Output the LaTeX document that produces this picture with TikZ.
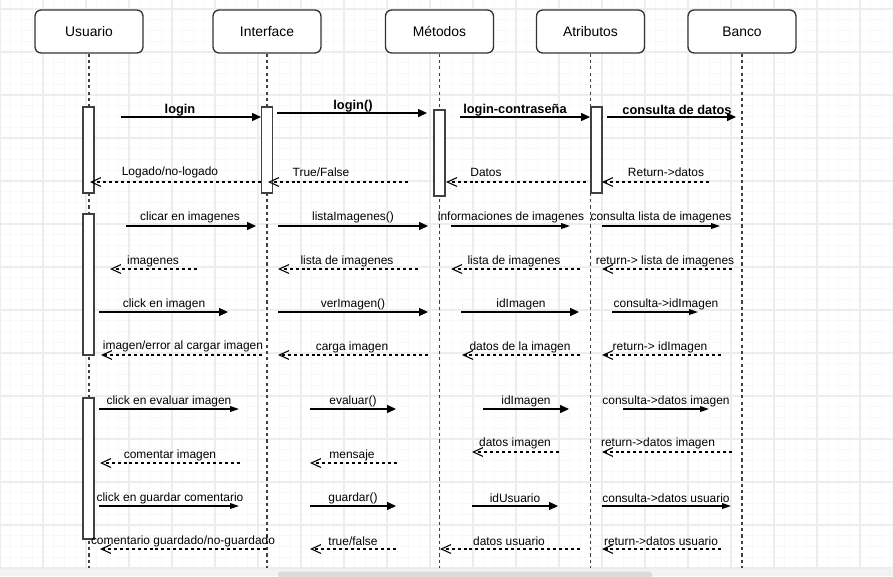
\documentclass[tikz,border=0pt]{standalone}
\usepackage{fontspec}
\setmainfont{Liberation Sans}
\usetikzlibrary{arrows.meta}
\definecolor{gridmin}{HTML}{F8F8F8}
\definecolor{gridmaj}{HTML}{EDEDED}

\begin{document}
\begin{tikzpicture}[x=0.02cm,y=-0.02cm]

\tikzstyle{head}=[draw=black!80,fill=white,rounded corners=3.5pt,minimum width=2.16cm,minimum height=0.86cm,line width=0.75pt,font=\fontsize{7.9}{9}\selectfont]
\tikzstyle{life}=[black!75,line width=0.6pt,dash pattern=on 1.8pt off 1.8pt]
\tikzstyle{act}=[draw=black!75,fill=white,line width=0.75pt,minimum width=0.22cm,inner sep=0]
\tikzstyle{call}=[line width=0.6pt,-{Triangle[length=5pt,width=4.5pt]}]
\tikzstyle{callsm}=[line width=0.6pt,-{Triangle[length=5pt,width=3.2pt]}]
\tikzstyle{ret}=[line width=0.6pt,dash pattern=on 1.7pt off 1.7pt,-{Straight Barb[length=5.5pt,width=5pt]}]
\tikzstyle{lbl}=[inner sep=0,font=\fontsize{6.8}{8}\selectfont]
\tikzstyle{blbl}=[inner sep=0,font=\fontsize{7.3}{9}\bfseries\selectfont]

\useasboundingbox (0,0) rectangle (893,576);

% grid
\foreach \x in {0,10.75,...,893} \draw[gridmin,line width=0.5pt] (\x,0) -- (\x,576);
\foreach \y in {-1.75,9,...,576} \draw[gridmin,line width=0.5pt] (0,\y) -- (893,\y);
\foreach \x in {0,43,...,893} \draw[gridmaj,line width=0.6pt] (\x,0) -- (\x,576);
\foreach \y in {9,52,...,576} \draw[gridmaj,line width=0.6pt] (0,\y) -- (893,\y);

% objects
\node[head] (usr) at (89,31.5) {Usuario};
\node[head] (itf) at (267,31.5) {Interface};
\node[head] (met) at (439.5,31.5) {Métodos};
\node[head] (atr) at (590.5,31.5) {Atributos};
\node[head] (bco) at (742,31.5) {Banco};

\node[shape=coordinate] (fin) at (0,568) {};
\draw[life] (usr.south) -- (usr.south |- fin);
\draw[life] (itf.south) -- (itf.south |- fin);
\draw[life] (met.south) -- (met.south |- fin);
\draw[life] (atr.south) -- (atr.south |- fin);
\draw[life] (bco.south) -- (bco.south |- fin);

% activations
\node[act,minimum height=1.72cm] (usrA) at (88.5,150) {};
\node[act,minimum height=1.72cm] (itfA) at (267,150) {};
\node[act,minimum height=1.72cm] (metA) at (439.5,153) {};
\node[act,minimum height=1.72cm] (atrA) at (596.5,150) {};
\node[act,minimum height=2.82cm] (usrB) at (88.5,284.5) {};
\node[act,minimum height=2.82cm] (usrC) at (88.5,468.5) {};

% login
\coordinate (m1a) at (121,117); \coordinate (m1b) at (261,117);
\draw[call] (m1a) -- (m1b); \node[blbl] (t1) at (180,110) {login};
\coordinate (m2a) at (277,113); \coordinate (m2b) at (427,113);
\draw[call] (m2a) -- (m2b); \node[blbl] (t2) at (353,106) {login()};
\coordinate (m3a) at (460,117); \coordinate (m3b) at (590,117);
\draw[call] (m3a) -- (m3b); \node[blbl] (t3) at (515,110) {login-contraseña};
\coordinate (m4a) at (607,117); \coordinate (m4b) at (736,117);
\draw[call] (m4a) -- (m4b); \node[blbl] (t4) at (677,110) {consulta de datos};

\coordinate (m5a) at (261,182); \coordinate (m5b) at (90,182);
\draw[ret] (m5a) -- (m5b); \node[lbl] (t5) at (170,172) {Logado/no-logado};
\coordinate (m6a) at (408,182); \coordinate (m6b) at (268,182);
\draw[ret] (m6a) -- (m6b); \node[lbl] (t6) at (321,172) {True/False};
\coordinate (m7a) at (586,182); \coordinate (m7b) at (446,182);
\draw[ret] (m7a) -- (m7b); \node[lbl] (t7) at (486,172) {Datos};
\coordinate (m8a) at (709,182); \coordinate (m8b) at (602,182);
\draw[ret] (m8a) -- (m8b); \node[lbl] (t8) at (666,172) {Return->datos};

% imagenes
\coordinate (m9a) at (126,226); \coordinate (m9b) at (256,226);
\draw[call] (m9a) -- (m9b); \node[lbl] (t9) at (190,217) {clicar en imagenes};
\coordinate (m10a) at (278,226); \coordinate (m10b) at (428,226);
\draw[call] (m10a) -- (m10b); \node[lbl] (t10) at (353,217) {listaImagenes()};
\coordinate (m11a) at (451,226); \coordinate (m11b) at (570,226);
\draw[callsm] (m11a) -- (m11b); \node[lbl] (t11) at (511,217) {informaciones de imagenes};
\coordinate (m12a) at (602,226); \coordinate (m12b) at (720,226);
\draw[callsm] (m12a) -- (m12b); \node[lbl] (t12) at (661,217) {consulta lista de imagenes};

\coordinate (m13a) at (197,269); \coordinate (m13b) at (110,269);
\draw[ret] (m13a) -- (m13b); \node[lbl] (t13) at (153,261) {imagenes};
\coordinate (m14a) at (418,269); \coordinate (m14b) at (278,269);
\draw[ret] (m14a) -- (m14b); \node[lbl] (t14) at (347,261) {lista de imagenes};
\coordinate (m15a) at (580,269); \coordinate (m15b) at (451,269);
\draw[ret] (m15a) -- (m15b); \node[lbl] (t15) at (514,261) {lista de imagenes};
\coordinate (m16a) at (732,269); \coordinate (m16b) at (602,269);
\draw[ret] (m16a) -- (m16b); \node[lbl] (t16) at (665,261) {return-> lista de imagenes};

\coordinate (m17a) at (99,312); \coordinate (m17b) at (228,312);
\draw[call] (m17a) -- (m17b); \node[lbl] (t17) at (164,304) {click en imagen};
\coordinate (m18a) at (278,312); \coordinate (m18b) at (428,312);
\draw[call] (m18a) -- (m18b); \node[lbl] (t18) at (353,304) {verImagen()};
\coordinate (m19a) at (461,312); \coordinate (m19b) at (579,312);
\draw[call] (m19a) -- (m19b); \node[lbl] (t19) at (521,304) {idImagen};
\coordinate (m20a) at (612,312); \coordinate (m20b) at (698,312);
\draw[callsm] (m20a) -- (m20b); \node[lbl] (t20) at (666,304) {consulta->idImagen};

\coordinate (m21a) at (262,355); \coordinate (m21b) at (101,355);
\draw[ret] (m21a) -- (m21b); \node[lbl] (t21) at (183,346) {imagen/error al cargar imagen};
\coordinate (m22a) at (428,355); \coordinate (m22b) at (278,355);
\draw[ret] (m22a) -- (m22b); \node[lbl] (t22) at (352,347) {carga imagen};
\coordinate (m23a) at (580,355); \coordinate (m23b) at (462,355);
\draw[ret] (m23a) -- (m23b); \node[lbl] (t23) at (520,347) {datos de la imagen};
\coordinate (m24a) at (721,355); \coordinate (m24b) at (602,355);
\draw[ret] (m24a) -- (m24b); \node[lbl] (t24) at (660,347) {return-> idImagen};

% evaluar
\coordinate (m25a) at (99,409); \coordinate (m25b) at (239,409);
\draw[callsm] (m25a) -- (m25b); \node[lbl] (t25) at (169,401) {click en evaluar imagen};
\coordinate (m26a) at (310,409); \coordinate (m26b) at (396,409);
\draw[call] (m26a) -- (m26b); \node[lbl] (t26) at (353,401) {evaluar()};
\coordinate (m27a) at (483,409); \coordinate (m27b) at (569,409);
\draw[call] (m27a) -- (m27b); \node[lbl] (t27) at (526,401) {idImagen};
\coordinate (m28a) at (623,409); \coordinate (m28b) at (709,409);
\draw[callsm] (m28a) -- (m28b); \node[lbl] (t28) at (666,401) {consulta->datos imagen};

\coordinate (m29a) at (240,463); \coordinate (m29b) at (100,463);
\draw[ret] (m29a) -- (m29b); \node[lbl] (t29) at (170,455) {comentar imagen};
\coordinate (m30a) at (397,463); \coordinate (m30b) at (310,463);
\draw[ret] (m30a) -- (m30b); \node[lbl] (t30) at (352,455) {mensaje};
\coordinate (m31a) at (559,452); \coordinate (m31b) at (472,452);
\draw[ret] (m31a) -- (m31b); \node[lbl] (t31) at (515,443) {datos imagen};
\coordinate (m32a) at (732,452); \coordinate (m32b) at (602,452);
\draw[ret] (m32a) -- (m32b); \node[lbl] (t32) at (658,443) {return->datos imagen};

% guardar
\coordinate (m33a) at (99,506); \coordinate (m33b) at (239,506);
\draw[callsm] (m33a) -- (m33b); \node[lbl] (t33) at (170,498) {click en guardar comentario};
\coordinate (m34a) at (310,506); \coordinate (m34b) at (396,506);
\draw[call] (m34a) -- (m34b); \node[lbl] (t34) at (353,498) {guardar()};
\coordinate (m35a) at (472,506); \coordinate (m35b) at (558,506);
\draw[call] (m35a) -- (m35b); \node[lbl] (t35) at (515,498) {idUsuario};
\coordinate (m36a) at (602,506); \coordinate (m36b) at (731,506);
\draw[callsm] (m36a) -- (m36b); \node[lbl] (t36) at (666,498) {consulta->datos usuario};

\coordinate (m37a) at (266,549); \coordinate (m37b) at (100,549);
\draw[ret] (m37a) -- (m37b); \node[lbl] (t37) at (183,541) {comentario guardado/no-guardado};
\coordinate (m38a) at (396,549); \coordinate (m38b) at (310,549);
\draw[ret] (m38a) -- (m38b); \node[lbl] (t38) at (353,541) {true/false};
\coordinate (m39a) at (580,549); \coordinate (m39b) at (440,549);
\draw[ret] (m39a) -- (m39b); \node[lbl] (t39) at (509,541) {datos usuario};
\coordinate (m40a) at (721,549); \coordinate (m40b) at (602,549);
\draw[ret] (m40a) -- (m40b); \node[lbl] (t40) at (661,541) {return->datos usuario};

% scroll bar
\fill[black!5] (0,569) rectangle (893,576);
\fill[black!14,rounded corners=1.5pt] (278,571.5) rectangle (652,578);

\end{tikzpicture}
\end{document}
